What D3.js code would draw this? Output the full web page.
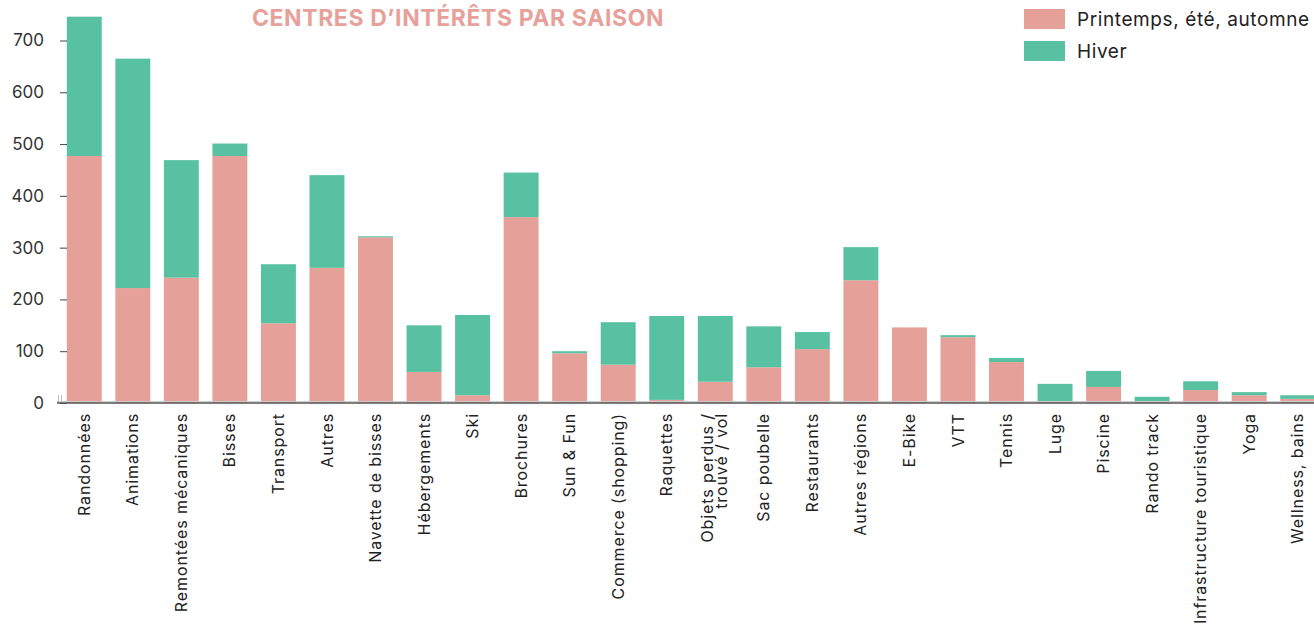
<!DOCTYPE html>
<html>
<head>
<meta charset="utf-8">
<script src="https://cdn.jsdelivr.net/npm/d3@7"></script>
<style>
  body { margin: 0; background: #fff; }
  text { font-family: "Inter", "Lato", sans-serif; }
</style>
</head>
<body>
<script>
// catégories et valeurs
var categories = ["Randonnées", "Animations", "Remontées mécaniques", "Bisses", "Transport", "Autres",
  "Navette de bisses", "Hébergements", "Ski", "Brochures", "Sun & Fun", "Commerce (shopping)",
  "Raquettes", "Objets perdus /\ntrouvé / vol", "Sac poubelle", "Restaurants", "Autres régions",
  "E-Bike", "VTT", "Tennis", "Luge", "Piscine", "Rando track", "Infrastructure touristique",
  "Yoga", "Wellness, bains"];
var ete = [477, 222, 242, 477, 154, 261, 320, 60, 15, 359, 96, 74, 6, 41, 69, 104, 237, 146, 127, 79, 2, 31, 2, 25, 15, 8];
var hiver = [269, 443, 227, 24, 114, 179, 2, 90, 155, 86, 4, 82, 162, 127, 79, 33, 64, 0, 4, 8, 35, 31, 10, 17, 6, 7];
var yTicks = [0, 100, 200, 300, 400, 500, 600, 700];
var seriesNames = ["Printemps, été, automne", "Hiver"];
var colors = ["#e5a199", "#58c1a1"];

var width = 1314, height = 624;
var svg = d3.select("body").append("svg").attr("width", width).attr("height", height);

var x = d3.scaleBand().domain(categories).range([60, 1322]).paddingInner(0.28).paddingOuter(0.14);
var y = d3.scaleLinear().domain([0, 700]).range([403, 40.5]);

var rows = categories.map((c, i) => ({ cat: c, ete: ete[i], hiver: hiver[i] }));
var stack = d3.stack().keys(["ete", "hiver"])(rows);

// barres empilées
svg.selectAll("g.serie").data(stack).join("g")
  .attr("class", "serie")
  .attr("fill", (d, i) => colors[i])
  .selectAll("rect").data(d => d).join("rect")
  .attr("x", d => x(d.data.cat))
  .attr("width", x.bandwidth())
  .attr("y", d => y(d[1]))
  .attr("height", d => y(d[0]) - y(d[1]));

// axe Y
var yAxis = d3.axisLeft(y).tickValues(yTicks).tickSize(7).tickPadding(16);
var yG = svg.append("g").attr("transform", "translate(67,0)").call(yAxis);
yG.select(".domain").remove();
yG.selectAll(".tick line").attr("stroke", "#444");
yG.selectAll(".tick text").attr("font-size", 17).attr("fill", "#333")
  .style("font-family", "Inter, Lato, sans-serif");

// petites marques près de l'origine
svg.append("line").attr("x1", 58.5).attr("x2", 58.5).attr("y1", 395).attr("y2", 403).attr("stroke", "#bbb");
svg.append("line").attr("x1", 61.5).attr("x2", 61.5).attr("y1", 395).attr("y2", 403).attr("stroke", "#bbb");

// axe X
var xG = svg.append("g").attr("transform", "translate(0,403)");
xG.append("line").attr("x1", 57).attr("x2", width).attr("y1", 0).attr("y2", 0)
  .attr("stroke", "#555").attr("stroke-width", 1.5);
xG.append("line").attr("x1", 57).attr("x2", width).attr("y1", -1.5).attr("y2", -1.5)
  .attr("stroke", "#ccc").attr("stroke-width", 1);

var labels = xG.selectAll("text.cat").data(categories).join("text")
  .attr("class", "cat")
  .attr("transform", d => "translate(" + (x(d) + x.bandwidth() / 2) + ",10) rotate(-90)")
  .attr("text-anchor", "end")
  .attr("font-size", 16)
  .attr("letter-spacing", 0.9)
  .attr("fill", "#222");
labels.each(function (d) {
  var lines = d.split("\n");
  var t = d3.select(this);
  var off = (lines.length - 1) * -0.5;
  lines.forEach((l, k) => {
    t.append("tspan").attr("x", 0).attr("dy", k === 0 ? (0.35 + off) + "em" : "0.9em").text(l);
  });
});

// titre
svg.append("text")
  .attr("x", 458).attr("y", 26)
  .attr("text-anchor", "middle")
  .attr("font-size", 23).attr("font-weight", "bold")
  .attr("letter-spacing", 0.6)
  .attr("fill", "#e8a19a")
  .text("CENTRES D’INTÉRÊTS PAR SAISON");

// légende
var leg = svg.append("g").selectAll("g").data(seriesNames).join("g")
  .attr("transform", (d, i) => "translate(1024," + (9 + i * 32) + ")");
leg.append("rect").attr("width", 41).attr("height", 20).attr("fill", (d, i) => colors[i]);
leg.append("text").attr("x", 53).attr("y", 17).attr("font-size", 19).attr("letter-spacing", 0.6)
  .attr("fill", "#222").text(d => d);
</script>
</body>
</html>
